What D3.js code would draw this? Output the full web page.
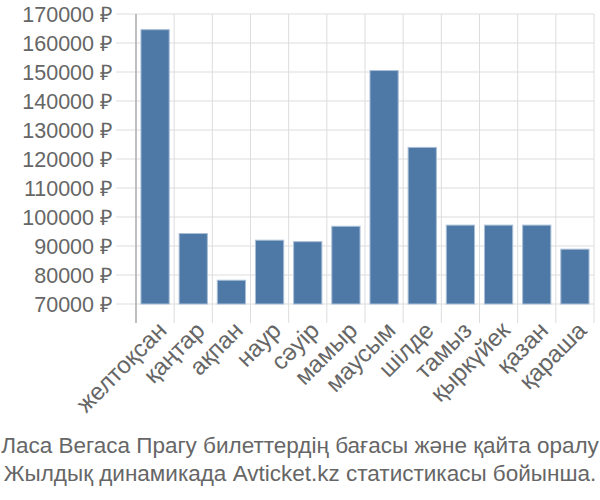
<!DOCTYPE html>
<html><head><meta charset="utf-8">
<script src="https://cdn.jsdelivr.net/npm/d3@7"></script>
<style>body{margin:0;background:#fff}svg{display:block}text{font-family:"Liberation Sans",Arial,sans-serif;fill:#666}</style>
</head><body><svg id="c" width="600" height="500"></svg>
<script>
const months = ["желтоқсан","қаңтар","ақпан","наур","сәуір","мамыр","маусым","шілде","тамыз","қыркүйек","қазан","қараша"];
const prices = [164600, 94300, 78200, 92000, 91500, 96800, 150500, 124000, 97200, 97200, 97200, 88900];
const yTicks = [70000,80000,90000,100000,110000,120000,130000,140000,150000,160000,170000];
const titleLines = ["Ласа Вегаса Прагу билеттердің бағасы және қайта оралу","Жылдық динамикада Avticket.kz статистикасы бойынша."];

const svg = d3.select("#c");
const m = {l:136, r:594, t:14, b:304};
const x = d3.scaleBand().domain(months).range([m.l, m.r]).paddingInner(0.26).paddingOuter(0.13);
const xg = d3.scaleBand().domain(months).range([m.l, m.r]);
const y = d3.scaleLinear().domain([70000,170000]).range([m.b, m.t]);

// horizontal grid
svg.append("g").selectAll("line").data(yTicks).join("line")
  .attr("x1", m.l-20).attr("x2", m.r).attr("y1", d=>y(d)).attr("y2", d=>y(d))
  .attr("stroke","#ddd").attr("stroke-width",1);
// vertical grid
const vx = months.map(d=>xg(d)).concat([m.r]);
svg.append("g").selectAll("line").data(vx.slice(1)).join("line")
  .attr("x1", d=>d).attr("x2", d=>d).attr("y1", m.t).attr("y2", m.b+19)
  .attr("stroke","#ddd").attr("stroke-width",1);
// left axis line
svg.append("line").attr("x1",m.l).attr("x2",m.l).attr("y1",m.t).attr("y2",m.b+19)
  .attr("stroke","#aaa").attr("stroke-width",1.5);

// y labels
svg.append("g").selectAll("text").data(yTicks).join("text")
  .attr("x", m.l-23).attr("y", d=>y(d)).attr("dy","0.35em")
  .attr("text-anchor","end").attr("font-size",21.5)
  .text(d=>d+" ₽");

// bars
svg.append("g").selectAll("rect").data(prices).join("rect")
  .attr("x",(d,i)=>x(months[i])).attr("width",x.bandwidth())
  .attr("y",d=>y(d)).attr("height",d=>m.b-y(d))
  .attr("fill","#4e79a7").attr("stroke","#a9bed6").attr("stroke-width",1);

// x labels
svg.append("g").selectAll("text").data(months).join("text")
  .attr("transform", d=>`translate(${xg(d)+xg.bandwidth()/2+7},${m.b+22}) rotate(-45)`)
  .attr("text-anchor","end").attr("dy","0.35em").attr("font-size",24)
  .text(d=>d);

// title
svg.append("g").selectAll("text").data(titleLines).join("text")
  .attr("x",300).attr("y",(d,i)=>453+i*28).attr("text-anchor","middle").attr("font-size",22.5)
  .text(d=>d);
</script></body></html>
